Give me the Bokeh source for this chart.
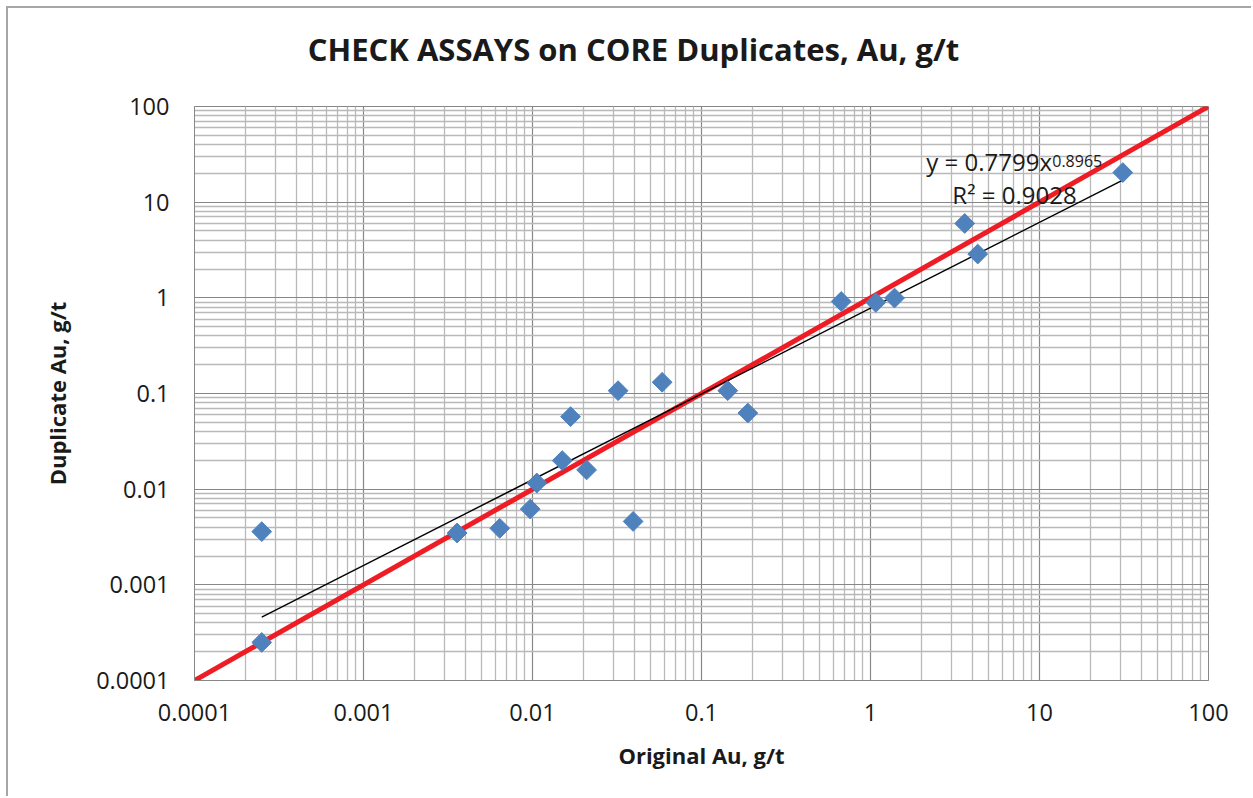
import numpy as np
from bokeh.plotting import figure
from bokeh.models import FixedTicker, Label, Title
from bokeh.embed import file_html
from bokeh.resources import INLINE

# ---- data ----
orig_au = [0.00025, 0.00025, 0.00358, 0.0064, 0.0097, 0.0106, 0.0150, 0.0168,
           0.0209, 0.0394, 0.0321, 0.0585, 0.143, 0.188, 0.671, 1.075, 1.387,
           3.61, 4.31, 31.1]
dup_au = [0.0036, 0.00025, 0.00348, 0.0039, 0.0062, 0.0116, 0.0199, 0.0573,
          0.0159, 0.0046, 0.107, 0.131, 0.107, 0.0625, 0.916, 0.895, 0.995,
          5.99, 2.87, 20.4]
tick_values = [0.0001, 0.001, 0.01, 0.1, 1, 10, 100]
tick_labels = ["0.0001", "0.001", "0.01", "0.1", "1", "10", "100"]
one_to_one = [0.0001, 100]
fit_a = 0.7799
fit_b = 0.8965
fit_r2 = 0.9028

FONT = "Open Sans"
W, H = 1245, 790

p = figure(width=W, height=H, x_axis_type="log", y_axis_type="log",
           x_range=(tick_values[0], tick_values[-1]),
           y_range=(tick_values[0], tick_values[-1]),
           output_backend="svg", toolbar_location=None,
           min_border_left=186, min_border_right=45,
           min_border_top=98, min_border_bottom=118, title=None)
p.styles = {"margin-left": "6px", "margin-top": "6px",
            "border-left": "2px solid #a6a6a6", "border-top": "2px solid #a6a6a6"}

minor = [m * d for d in tick_values[:-1] for m in range(2, 10)]
for ax in (p.xaxis, p.yaxis):
    ax.ticker = FixedTicker(ticks=tick_values, minor_ticks=minor)
    ax.major_label_overrides = {v: s for v, s in zip(tick_values, tick_labels)}
    ax.major_tick_line_color = None
    ax.minor_tick_line_color = None
    ax.axis_line_color = "#878787"
    ax.major_label_text_font = FONT
    ax.major_label_text_font_size = "23.5px"
    ax.major_label_text_color = "#1a1a1a"
    ax.axis_label_text_font = FONT
    ax.axis_label_text_font_size = "22px"
    ax.axis_label_text_font_style = "bold"
    ax.axis_label_text_color = "#1a1a1a"

p.xaxis.axis_label = "Original Au, g/t"
p.yaxis.axis_label = "Duplicate Au, g/t"
p.xaxis.major_label_standoff = 17
p.yaxis.major_label_standoff = 19
p.xaxis.axis_label_standoff = 16
p.yaxis.axis_label_standoff = 21

for g in (p.xgrid, p.ygrid):
    g.grid_line_color = "#878787"
    g.grid_line_width = 1.2
    g.minor_grid_line_color = "#b9b9b9"
    g.minor_grid_line_width = 1.3

p.outline_line_color = "#878787"

# 1:1 line
p.line(one_to_one, one_to_one, line_color="#ee1c25", line_width=5)

# power trendline y = a x^b over data range
tx = np.array([min(orig_au), max(orig_au)])
p.line(tx, fit_a * tx ** fit_b, line_color="#000000", line_width=1.4)

# data points (diamonds)
p.scatter(orig_au, dup_au, marker="square", angle=np.pi / 4, size=14,
          fill_color="#4f81bd", line_color="#4f81bd")

# trendline equation
p.add_layout(Label(x=2.14, y=26.6, text=f"y = {fit_a}x", text_font=FONT,
                   text_font_size="24px", text_color="#1a1a1a",
                   text_baseline="alphabetic"))
p.add_layout(Label(x=11.9, y=27.1, text=f"{fit_b}", text_font=FONT,
                   text_font_size="16px", text_color="#1a1a1a",
                   text_baseline="alphabetic"))
p.add_layout(Label(x=3.05, y=11.95, text=f"R² = {fit_r2}", text_font=FONT,
                   text_font_size="24px", text_color="#1a1a1a",
                   text_baseline="alphabetic"))

# title
p.add_layout(Title(text="CHECK ASSAYS on CORE Duplicates, Au, g/t",
                   text_font=FONT, text_font_size="31px", text_font_style="bold",
                   text_color="#1a1a1a", align="center",
                   padding=dict(left=0, right=136, top=0, bottom=32)), "above")

open("out.html", "w").write(file_html(p, INLINE))
